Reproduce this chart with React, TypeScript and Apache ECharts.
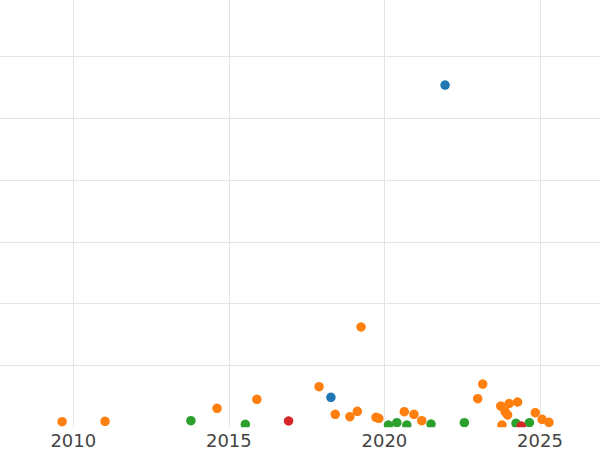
import React, { useEffect, useRef } from "react";
import * as echarts from "echarts";

// Data (x: year, y: value)
const blueX = [2018.28, 2021.95];
const blueY = [4.85, 55.34];

const orangeX = [
  2009.64, 2011.02, 2014.62, 2015.9, 2017.9, 2018.42, 2018.89, 2019.13, 2019.25,
  2019.73, 2019.82, 2020.64, 2020.95, 2021.2, 2023.0, 2023.16, 2023.74, 2024.01,
  2024.28, 2023.88, 2023.96, 2023.78, 2024.85, 2025.07, 2025.29,
];
const orangeY = [
  0.91, 0.97, 3.07, 4.53, 6.56, 2.1, 1.71, 2.59, 16.22,
  1.62, 1.46, 2.52, 2.1, 1.07, 4.62, 7.0, 3.44, 3.85,
  4.09, 2.55, 1.99, 0.37, 2.36, 1.29, 0.81,
];

const greenX = [2013.78, 2015.53, 2020.13, 2020.4, 2020.72, 2021.5, 2022.57, 2024.23, 2024.66];
const greenY = [1.07, 0.49, 0.37, 0.74, 0.37, 0.53, 0.74, 0.65, 0.74];

const redX = [2016.92, 2024.4];
const redY = [1.02, 0.21];

const xMin = 2007.644;
const xMax = 2026.93;
const yMin = 0;
const yMax = 69.1;

const zip = (xs: number[], ys: number[]) => xs.map((x, i) => [x, ys[i]]);

const GRID = "#e4e4e4";

export default function App() {
  const ref = useRef<HTMLDivElement>(null);
  useEffect(() => {
    if (!ref.current) return;
    const chart = echarts.init(ref.current, undefined, { renderer: "svg" });
    const mkSeries = (name: string, xs: number[], ys: number[], color: string) => ({
      name,
      type: "scatter",
      xAxisIndex: 0,
      yAxisIndex: 0,
      data: zip(xs, ys),
      symbol: "circle",
      symbolSize: 9.5,
      itemStyle: { color, opacity: 1 },
      clip: false,
      z: 2,
    });
    chart.setOption({
      animation: false,
      backgroundColor: "#fff",
      grid: { left: 0, right: 0, top: 0, bottom: 22.7, outerBoundsMode: "none", containLabel: false },
      xAxis: [
        {
          type: "value",
          min: xMin,
          max: xMax,
          splitNumber: 4,
          position: "bottom",
          z: 0,
          axisLine: { show: false },
          axisTick: { show: false },
          axisLabel: { show: false },
          splitLine: {
            show: true,
            lineStyle: { color: ["transparent", GRID, GRID, GRID, GRID, "transparent"], width: 1 },
          },
        },
        {
          type: "value",
          min: xMin,
          max: xMax,
          splitNumber: 4,
          position: "bottom",
          offset: 0,
          z: 10,
          axisLine: { show: false },
          axisTick: { show: false },
          splitLine: { show: false },
          axisLabel: {
            show: true,
            showMinLabel: false,
            showMaxLabel: false,
            margin: 4,
            color: "#444",
            fontSize: 18,
            fontFamily: "DejaVu Sans",
            formatter: (v: number) => (Math.abs(v % 5) < 1e-6 ? String(Math.round(v)) : ""),
          },
        },
      ],
      yAxis: {
        type: "value",
        min: yMin,
        max: yMax,
        interval: 10,
        axisLine: { show: false },
        axisTick: { show: false },
        axisLabel: { show: false },
        splitLine: {
          show: true,
          lineStyle: {
            color: ["transparent", GRID, GRID, GRID, GRID, GRID, GRID, "transparent"],
            width: 1,
          },
        },
      },
      graphic: [
        {
          type: "rect",
          z: 5,
          shape: { x: 0, y: 427.3, width: 600, height: 30 },
          style: { fill: "#fff" },
          silent: true,
        },
      ],
      series: [
        mkSeries("blue", blueX, blueY, "#1f77b4"),
        mkSeries("orange", orangeX, orangeY, "#ff7f0e"),
        mkSeries("green", greenX, greenY, "#2ca02c"),
        mkSeries("red", redX, redY, "#d62728"),
      ],
    });
    return () => chart.dispose();
  }, []);
  return (
    <div
      ref={ref}
      style={{ position: "fixed", left: 0, top: 0, width: 600, height: 450 }}
    />
  );
}
